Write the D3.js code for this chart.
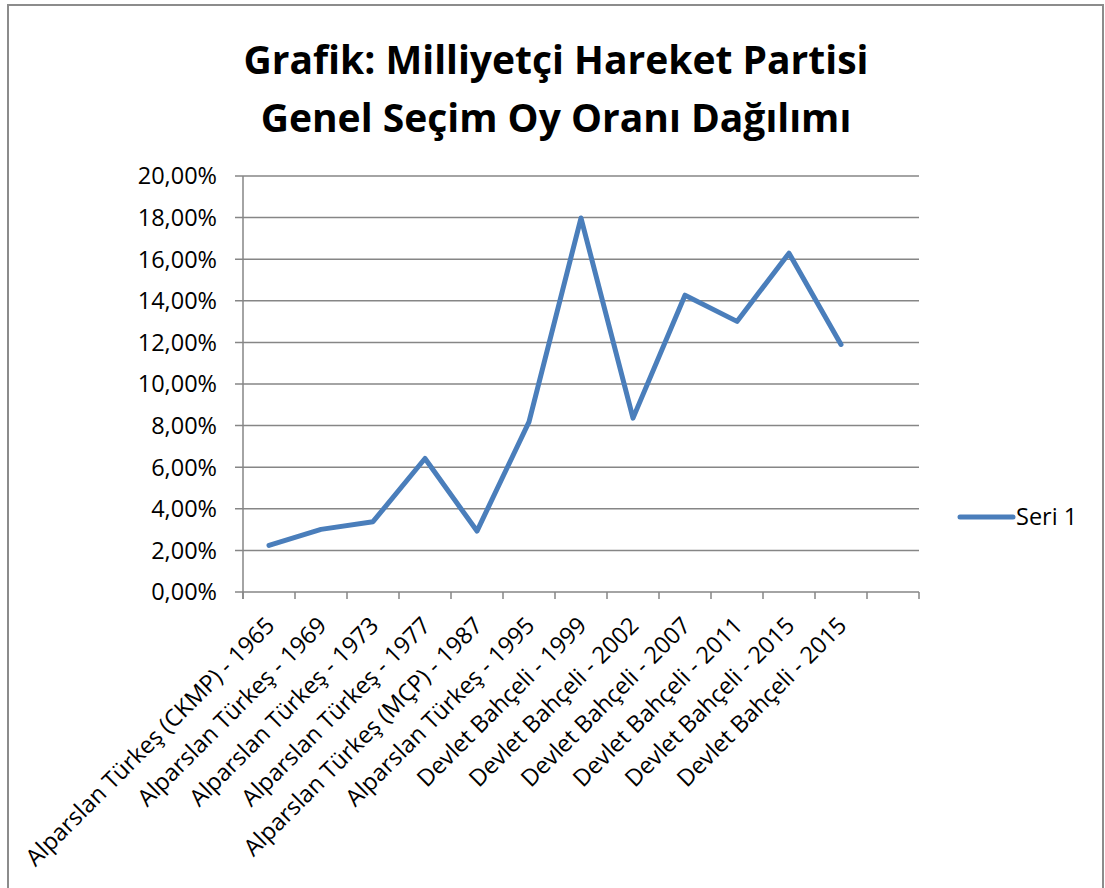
<!DOCTYPE html>
<html>
<head>
<meta charset="utf-8">
<script src="https://cdn.jsdelivr.net/npm/d3@7"></script>
<style>
  body { margin: 0; background: #fff; }
  text { font-family: "Open Sans", "Noto Sans", sans-serif; }
</style>
</head>
<body>
<script>
// veriler
var categories = [
  "Alparslan Türkeş (CKMP) - 1965",
  "Alparslan Türkeş - 1969",
  "Alparslan Türkeş - 1973",
  "Alparslan Türkeş - 1977",
  "Alparslan Türkeş (MÇP) - 1987",
  "Alparslan Türkeş - 1995",
  "Devlet Bahçeli - 1999",
  "Devlet Bahçeli - 2002",
  "Devlet Bahçeli - 2007",
  "Devlet Bahçeli - 2011",
  "Devlet Bahçeli - 2015",
  "Devlet Bahçeli - 2015",
  ""
];
var values = [0.0224, 0.0301, 0.0338, 0.0642, 0.0293, 0.0818, 0.1798, 0.0836, 0.1427, 0.1301, 0.1629, 0.1190];
var yTicks = [0, 0.02, 0.04, 0.06, 0.08, 0.10, 0.12, 0.14, 0.16, 0.18, 0.20];
var titleLines = ["Grafik: Milliyetçi Hareket Partisi", "Genel Seçim Oy Oranı Dağılımı"];
var seriesName = "Seri 1";

var width = 1105, height = 888;
var pLeft = 243, pRight = 919, pTop = 176, pBottom = 592;
var lineColor = "#4a7ebb", gridColor = "#868686";

var svg = d3.select("body").append("svg")
    .attr("width", width)
    .attr("height", height);

// çerçeve
svg.append("rect")
    .attr("x", 8).attr("y", 5)
    .attr("width", 1095).attr("height", 900)
    .attr("fill", "#fff")
    .attr("stroke", "#8c8c8c")
    .attr("stroke-width", 2);

// başlık
svg.append("g").selectAll("text")
    .data(titleLines)
    .join("text")
    .attr("x", 556)
    .attr("y", (d, i) => 74 + i * 58)
    .attr("text-anchor", "middle")
    .attr("font-size", 39)
    .attr("font-weight", "bold")
    .attr("fill", "#000")
    .text(d => d);

var x = d3.scaleBand()
    .domain(d3.range(categories.length))
    .range([pLeft, pRight]);

var y = d3.scaleLinear()
    .domain([0, 0.20])
    .range([pBottom, pTop]);

// yatay ızgara
svg.append("g")
    .selectAll("line")
    .data(yTicks)
    .join("line")
    .attr("x1", pLeft - 8).attr("x2", pRight)
    .attr("y1", d => y(d)).attr("y2", d => y(d))
    .attr("stroke", gridColor)
    .attr("stroke-width", 1.5);

// y ekseni
svg.append("line")
    .attr("x1", pLeft).attr("x2", pLeft)
    .attr("y1", pTop).attr("y2", pBottom + 7)
    .attr("stroke", gridColor).attr("stroke-width", 1.5);

var fmt = d => d3.format(".2f")(d * 100).replace(".", ",") + "%";

svg.append("g").selectAll("text")
    .data(yTicks)
    .join("text")
    .attr("x", pLeft - 26)
    .attr("y", d => y(d))
    .attr("dy", "0.36em")
    .attr("text-anchor", "end")
    .attr("font-size", 23.5)
    .attr("fill", "#000")
    .text(fmt);

// x ekseni çentikleri
var tickPos = d3.range(categories.length + 1).map(i => pLeft + i * x.step());
svg.append("g").selectAll("line")
    .data(tickPos)
    .join("line")
    .attr("x1", d => d).attr("x2", d => d)
    .attr("y1", pBottom).attr("y2", pBottom + 7)
    .attr("stroke", gridColor).attr("stroke-width", 1.5);

// x etiketleri
svg.append("g").selectAll("text")
    .data(categories)
    .join("text")
    .attr("transform", (d, i) => "translate(" + (x(i) + x.bandwidth() / 2 + 7) + "," + (pBottom + 35) + ") rotate(-45)")
    .attr("text-anchor", "end")
    .attr("font-size", 23.5)
    .attr("fill", "#000")
    .text(d => d);

// çizgi
var line = d3.line()
    .x((d, i) => x(i) + x.bandwidth() / 2)
    .y(d => y(d));

svg.append("path")
    .datum(values)
    .attr("d", line)
    .attr("fill", "none")
    .attr("stroke", lineColor)
    .attr("stroke-width", 5)
    .attr("stroke-linejoin", "round")
    .attr("stroke-linecap", "round");

// lejant
svg.append("line")
    .attr("x1", 960).attr("x2", 1013)
    .attr("y1", 517).attr("y2", 517)
    .attr("stroke", lineColor)
    .attr("stroke-width", 5)
    .attr("stroke-linecap", "round");

svg.append("text")
    .attr("x", 1016).attr("y", 517)
    .attr("dy", "0.36em")
    .attr("font-size", 23.5)
    .attr("fill", "#000")
    .text(seriesName);
</script>
</body>
</html>
